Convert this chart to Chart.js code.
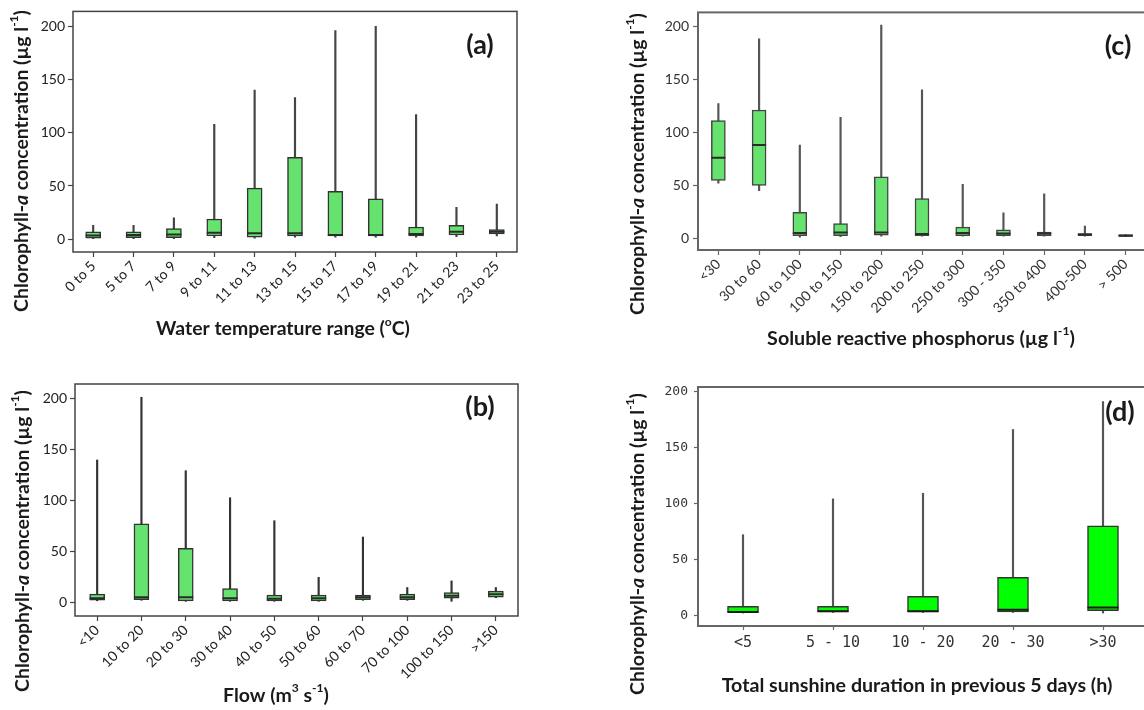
<!DOCTYPE html>
<html><head><meta charset="utf-8">
<script src="https://cdn.jsdelivr.net/npm/chart.js@4.4.0/dist/chart.umd.min.js"></script>
<style>
html,body{margin:0;padding:0;background:#fff;width:1144px;height:710px;overflow:hidden;position:relative}
canvas{position:absolute}
</style></head><body>
<canvas id="ca" width="560" height="345" style="left:0;top:0"></canvas>
<canvas id="cc" width="560" height="350" style="left:620px;top:0"></canvas>
<canvas id="cb" width="560" height="350" style="left:0;top:360px"></canvas>
<canvas id="cd" width="560" height="350" style="left:620px;top:360px"></canvas>
<script>
// ---- data ----
const yTicks = [0, 50, 100, 150, 200];

const tempCats = ['0 to 5','5 to 7','7 to 9','9 to 11','11 to 13','13 to 15','15 to 17','17 to 19','19 to 21','21 to 23','23 to 25'];
const tempMin = [0.5, 0.5, 0.5, 1.5, 1, 2, 2, 2, 2, 2.5, 3];
const tempQ1  = [1, 1.5, 1.5, 3, 2, 3, 3, 3, 3, 4, 5];
const tempMed = [3.5, 4, 4.5, 6, 5.5, 5.5, 4, 4, 5, 7, 7];
const tempQ3  = [7, 7, 10, 19, 48, 77, 45, 38, 11.5, 13, 9];
const tempMax = [13, 13, 20, 108, 140, 133, 196, 200, 117, 30, 33];

const srpCats = ['<30','30 to 60','60 to 100','100 to 150','150 to 200','200 to 250','250 to 300','300 - 350','350 to 400','400-500','> 500'];
const srpMin = [52, 45, 1, 1.5, 2, 2, 2, 2, 2, 2, 1.5];
const srpQ1  = [54.5, 50, 2.5, 2.5, 3, 2.5, 2.5, 2.5, 2.5, 2.5, 1.8];
const srpMed = [76, 88, 5, 5.5, 5.5, 4, 5, 4.5, 4.5, 3.5, 2.5];
const srpQ3  = [111, 121, 24.5, 14, 58, 37.5, 10.5, 8, 6, 4.5, 3.5];
const srpMax = [127, 188, 88, 114, 201, 140, 51, 24, 42, 11.5, 3.5];

const flowCats = ['<10','10 to 20','20 to 30','30 to 40','40 to 50','50 to 60','60 to 70','70 to 100','100 to 150','>150'];
const flowMin = [1.5, 2, 1, 1, 1, 1, 2, 2, 1, 4.5];
const flowQ1  = [2, 2.5, 1.5, 1.5, 1.5, 1.5, 2.5, 2.5, 4, 5];
const flowMed = [4, 5, 5, 4, 3.5, 4, 5, 5, 6.5, 8];
const flowQ3  = [8, 77, 53, 13.5, 7, 7, 7, 8, 9.5, 11];
const flowMax = [139.5, 201, 129, 102.5, 80, 24.5, 64, 14.5, 21, 14.5];

const sunCats = ['<5','5 - 10','10 - 20','20 - 30','>30'];
const sunMin = [2, 2.5, 2.5, 2.5, 2];
const sunQ1  = [2.5, 3, 3, 3, 4];
const sunMed = [3, 3.5, 3.5, 5, 7];
const sunQ3  = [8, 8, 17, 34, 80];
const sunMax = [72, 104, 109, 166, 191];

const yTitle = [{t:'Chlorophyll-'},{t:'a',it:true},{t:' concentration (µg l'},{t:'-1',sup:true},{t:')'}];

// ---- plugins ----
const frame = {
  id:'frame',
  afterDraw(chart, args, o){
    const a = chart.chartArea, ctx = chart.ctx;
    ctx.save(); ctx.strokeStyle = o.color || '#444'; ctx.lineWidth = o.width || 1.5;
    ctx.strokeRect(a.left, a.top, a.right - a.left, a.bottom - a.top);
    ctx.restore();
  }
};
function segFont(s, size, fam){
  return (s.it ? 'italic ' : '') + 'bold ' + (s.sup ? size*0.62 : size) + 'px ' + fam;
}
function drawRich(ctx, it){
  const fam = it.family || 'Lato';
  ctx.save();
  let size = 10;
  const measure = (sz) => it.segs.reduce((w,s)=>{ctx.font = segFont(s, sz, fam); return w + ctx.measureText(s.t).width;}, 0);
  if (it.target) size = 10 * it.target / measure(10); else size = it.size;
  const total = measure(size);
  ctx.translate(it.x, it.y); ctx.rotate(it.rot || 0);
  ctx.textBaseline = 'middle'; ctx.textAlign = 'left'; ctx.fillStyle = it.color || '#1a1a1a';
  let x = -total/2;
  for (const s of it.segs){
    ctx.font = segFont(s, size, fam);
    ctx.fillText(s.t, x, s.sup ? -size*0.38 : 0);
    x += ctx.measureText(s.t).width;
  }
  ctx.restore();
}
const rich = {
  id:'rich',
  afterDraw(chart, args, o){ (o.items||[]).forEach(it => drawRich(chart.ctx, it)); }
};

function makeBox(id, cats, mins, q1s, meds, q3s, maxs, cfg){
  new Chart(document.getElementById(id), {
    type:'bar',
    data:{
      labels:cats,
      datasets:[
        {type:'line', data:meds, showLine:false, pointStyle:'line', pointRadius:cfg.boxW/2, pointHoverRadius:cfg.boxW/2,
         pointBorderColor:cfg.medColor, pointBackgroundColor:cfg.medColor, pointBorderWidth:2, order:1},
        {data:q1s.map((v,i)=>[v,q3s[i]]), barThickness:cfg.boxW, backgroundColor:cfg.fill, borderColor:cfg.edge,
         borderWidth:1.5, borderSkipped:false, grouped:false, order:2},
        {data:mins.map((v,i)=>[v,maxs[i]]), barThickness:1.5, backgroundColor:cfg.whisk, borderWidth:0, grouped:false, order:3}
      ]
    },
    options:{
      responsive:false, animation:false, devicePixelRatio:1,
      layout:{padding:cfg.pad},
      plugins:{legend:{display:false}, tooltip:{enabled:false}, frame:{color:cfg.frame, width:cfg.frameW},
        rich:{items:cfg.texts}},
      scales:{
        x:{
          grid:{display:true, drawOnChartArea:false, drawTicks:true, tickLength:cfg.xTickLen, offset:false, color:cfg.frame, tickColor:cfg.frame, tickWidth:1.2},
          border:{display:false},
          ticks:{autoSkip:false, minRotation:cfg.rot, maxRotation:cfg.rot, padding:cfg.xPad, color:cfg.tickColor,
                 font:{family:cfg.xFont, size:cfg.xSize, weight:cfg.xWeight || 'normal'}},
          afterFit(s){ s.height = cfg.xH; }
        },
        y:{
          min:cfg.ymin, max:cfg.ymax,
          afterBuildTicks(s){ s.ticks = yTicks.map(v=>({value:v})); },
          grid:{display:true, drawOnChartArea:false, drawTicks:true, tickLength:cfg.yTickLen, color:cfg.frame, tickColor:cfg.frame, tickWidth:1.2},
          border:{display:false},
          ticks:{padding:cfg.yPad, color:cfg.tickColor, font:{family:cfg.yFont, size:cfg.ySize, weight:cfg.yWeight || 'normal'}},
          afterFit(s){ s.width = cfg.yW; }
        }
      }
    },
    plugins:[frame, rich]
  });
}

const green = '#66e36f';
makeBox('ca', tempCats, tempMin, tempQ1, tempMed, tempQ3, tempMax, {
  boxW:15, fill:green, edge:'#333', whisk:'#444', medColor:'#2b2b2b', frame:'#444', frameW:1.5,
  pad:{top:9, right:43, left:0, bottom:0}, xH:93, yW:73, ymin:-12, ymax:214, rot:45,
  xTickLen:5, yTickLen:5, xPad:1, yPad:3, tickColor:'#222', xFont:'Lato', yFont:'Lato', xSize:14, ySize:14,
  texts:[
    {segs:yTitle, x:22, y:161, rot:-Math.PI/2, target:302},
    {segs:[{t:'Water temperature range ('},{t:'o',sup:true},{t:'C)'}], x:283, y:329, target:254},
    {segs:[{t:'(a)'}], x:480, y:45, size:27}
  ]
});
makeBox('cc', srpCats, srpMin, srpQ1, srpMed, srpQ3, srpMax, {
  boxW:14, fill:green, edge:'#444', whisk:'#555', medColor:'#2b2b2b', frame:'#666', frameW:2,
  pad:{top:11, right:34, left:0, bottom:0}, xH:100, yW:78, ymin:-11, ymax:213, rot:45,
  xTickLen:5, yTickLen:5, xPad:1, yPad:4, tickColor:'#333', xFont:'Lato', yFont:'Lato', xSize:14, ySize:14,
  texts:[
    {segs:yTitle, x:18, y:164, rot:-Math.PI/2, target:302},
    {segs:[{t:'Soluble reactive phosphorus (µg l'},{t:'-1',sup:true},{t:')'}], x:301, y:339, target:308},
    {segs:[{t:'(c)'}], x:498, y:46, size:27}
  ]
});
makeBox('cb', flowCats, flowMin, flowQ1, flowMed, flowQ3, flowMax, {
  boxW:15, fill:green, edge:'#333', whisk:'#333', medColor:'#2b2b2b', frame:'#444', frameW:1.5,
  pad:{top:24, right:42, left:0, bottom:0}, xH:94, yW:75, ymin:-13.4, ymax:214, rot:45,
  xTickLen:5, yTickLen:5, xPad:1, yPad:3, tickColor:'#222', xFont:'Lato', yFont:'Lato', xSize:14, ySize:14,
  texts:[
    {segs:yTitle, x:23, y:181, rot:-Math.PI/2, target:302},
    {segs:[{t:'Flow (m'},{t:'3',sup:true},{t:' s'},{t:'-1',sup:true},{t:')'}], x:276, y:336, target:106},
    {segs:[{t:'(b)'}], x:480, y:47, size:27}
  ]
});
makeBox('cd', sunCats, sunMin, sunQ1, sunMed, sunQ3, sunMax, {
  boxW:31, fill:'#00ff00', edge:'#333', whisk:'#555', medColor:'#1a1a1a', frame:'#666', frameW:2,
  pad:{top:27, right:32, left:0, bottom:0}, xH:84, yW:78, ymin:-9.6, ymax:204, rot:0,
  xTickLen:4, yTickLen:4, xPad:4, yPad:6, tickColor:'#333', xFont:'DejaVu Sans Mono', yFont:'DejaVu Sans Mono', xSize:15, ySize:13,
  texts:[
    {segs:yTitle, x:18, y:184, rot:-Math.PI/2, target:302},
    {segs:[{t:'Total sunshine duration in previous 5 days (h)'}], x:297, y:326, target:391},
    {segs:[{t:'(d)'}], x:500, y:52, size:27}
  ]
});
</script>
</body></html>
